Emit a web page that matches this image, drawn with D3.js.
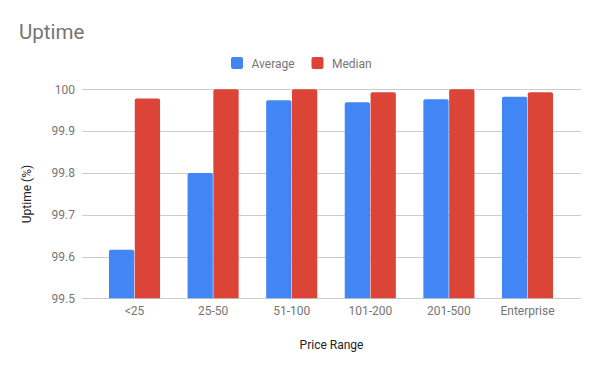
<!DOCTYPE html>
<html><head><meta charset="utf-8">
<script src="https://cdn.jsdelivr.net/npm/d3@7"></script>
<style>body{margin:0;background:#fff}svg{display:block;font-family:Roboto,sans-serif}</style>
</head><body><svg id="c" width="600" height="371"></svg>
<script>
const categories = ["<25","25-50","51-100","101-200","201-500","Enterprise"];
const average = [99.616, 99.80, 99.974, 99.969, 99.976, 99.982];
const median  = [99.978, 100.0, 100.0, 99.993, 100.0, 99.993];
const yTicks = [99.5, 99.6, 99.7, 99.8, 99.9, 100];
const yTickLabels = ["99.5","99.6","99.7","99.8","99.9","100"];
const seriesNames = ["Average","Median"];
const colors = ["#4285F4","#DB4437"];

const svg = d3.select("#c");
const gridL = 82, gridR = 581;
const y = d3.scaleLinear().domain([99.5,100]).range([298.3,89.3]);
const x = d3.scaleBand().domain(categories).range([95.2,566.8]).paddingInner(0.35).paddingOuter(0.175);
const xs = d3.scaleBand().domain(seriesNames).range([0,x.bandwidth()]).paddingInner(0.02);

// title
svg.append("text").attr("x",19).attr("y",38.5).attr("font-size",20.5).attr("fill","#757575").text("Uptime");

// gridlines
svg.append("g").selectAll("line").data(yTicks).join("line")
  .attr("x1",gridL).attr("x2",gridR)
  .attr("y1",d=>Math.round(y(d))+0.5).attr("y2",d=>Math.round(y(d))+0.5)
  .attr("stroke","#cccccc").attr("stroke-width",1);

// y axis labels
const yAxis = d3.axisLeft(y).tickValues(yTicks).tickFormat((d,i)=>yTickLabels[i]).tickSize(0).tickPadding(0);
const ya = svg.append("g").attr("transform",`translate(75,0)`).call(yAxis);
ya.select(".domain").remove();
ya.selectAll("text").attr("font-size",12).attr("fill","#757575").attr("font-family","Roboto,sans-serif");

// bars
const data = categories.map((c,i)=>({c, vals:[average[i],median[i]]}));
const g = svg.append("g");
data.forEach(d=>{
  d.vals.forEach((v,j)=>{
    const x0 = x(d.c)+xs(seriesNames[j]);
    const w = xs.bandwidth();
    const top = y(v), bot = y(99.5);
    const r = 2;
    g.append("path")
      .attr("d",`M${x0},${bot}V${top+r}Q${x0},${top} ${x0+r},${top}H${x0+w-r}Q${x0+w},${top} ${x0+w},${top+r}V${bot}Z`)
      .attr("fill",colors[j]);
  });
});

// x axis labels
const xAxis = d3.axisBottom(x).tickSize(0).tickPadding(0);
const xa = svg.append("g").attr("transform",`translate(0,${y(99.5)+8})`).call(xAxis);
xa.select(".domain").remove();
xa.selectAll("text").attr("font-size",12).attr("fill","#757575").attr("font-family","Roboto,sans-serif").attr("dy","0.71em");

// axis titles
svg.append("text").attr("x",(gridL+gridR)/2).attr("y",349).attr("text-anchor","middle")
  .attr("font-size",12).attr("fill","#222").text("Price Range");
svg.append("text").attr("transform","translate(31,194) rotate(-90)").attr("text-anchor","middle")
  .attr("font-size",12).attr("fill","#222").text("Uptime (%)");

// legend
const lx = [231, 311.5];
seriesNames.forEach((s,i)=>{
  svg.append("rect").attr("x",lx[i]).attr("y",57).attr("width",12).attr("height",12).attr("rx",2).attr("fill",colors[i]);
  svg.append("text").attr("x",lx[i]+20.5).attr("y",67.5).attr("font-size",12).attr("fill","#757575").text(s);
});
</script></body></html>
